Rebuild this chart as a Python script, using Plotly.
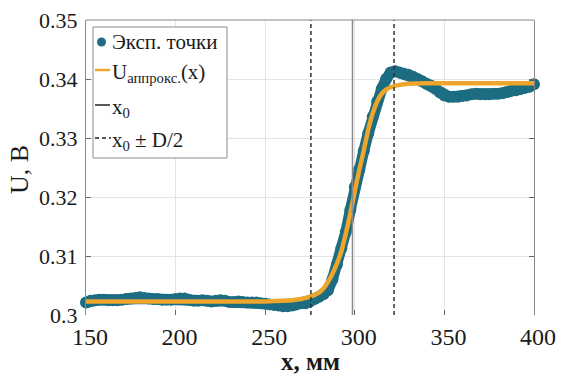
import plotly.graph_objects as go

# ---------------- data ----------------
x_exp = [150 + 2.5 * i for i in range(101)]
u_exp = [
    0.3021, 0.3024, 0.3025, 0.3026, 0.3026, 0.3025, 0.3025, 0.3025, 0.3026, 0.3027,
    0.3028, 0.3029, 0.3030, 0.3029, 0.3028, 0.3027, 0.3027, 0.3026, 0.3026, 0.3026,
    0.3027, 0.3028, 0.3028, 0.3026, 0.3024, 0.3024, 0.3025, 0.3024, 0.3023, 0.3024,
    0.3025, 0.3024, 0.3022, 0.3022, 0.3023, 0.3022, 0.3021, 0.3021, 0.3021, 0.3020,
    0.3019, 0.3018, 0.3017, 0.3016, 0.3015, 0.3015, 0.3016, 0.3018, 0.3020, 0.3020,
    0.3023, 0.3027, 0.3031, 0.3035, 0.3042, 0.3060, 0.3085, 0.3113, 0.3141, 0.3178,
    0.3217, 0.3247, 0.3278, 0.3308, 0.3336, 0.3362, 0.3383, 0.3400, 0.3411, 0.3413,
    0.3411, 0.3409, 0.3407, 0.3404, 0.3400, 0.3396, 0.3392, 0.3389, 0.3384, 0.3377,
    0.3372, 0.3370, 0.3370, 0.3370, 0.3371, 0.3372, 0.3374, 0.3375, 0.3374, 0.3374,
    0.3374, 0.3375, 0.3375, 0.3376, 0.3378, 0.3380, 0.3381, 0.3383, 0.3385, 0.3387,
    0.3391,
]

x_fit = [150, 200, 250, 260, 265, 270, 275, 280, 282.5, 285, 287.5, 290, 292.5, 295,
         297.5, 300, 302.5, 305, 307.5, 310, 312.5, 315, 317.5, 320, 325, 330, 340, 400]
u_fit = [0.3023, 0.3023, 0.3023, 0.3024, 0.3025, 0.3027, 0.3031, 0.3038, 0.3045, 0.3056,
         0.3070, 0.3087, 0.3108, 0.3138, 0.3172, 0.3210, 0.3246, 0.3279, 0.3314, 0.3342,
         0.3362, 0.3375, 0.3382, 0.3386, 0.3390, 0.3392, 0.3393, 0.3393]

x0 = 298.7
D = 46.4

x_ticks = [150, 200, 250, 300, 350, 400]
y_ticks = [0.30, 0.31, 0.32, 0.33, 0.34, 0.35]
y_tick_labels = ["0.3", "0.31", "0.32", "0.33", "0.34", "0.35"]

x_title = "<b>x, мм</b>"
y_title = "U, B"
legend_labels = ["Эксп. точки", "U<sub>аппрокс.</sub>(x)", "x<sub>0</sub>", "x<sub>0</sub> ± D/2"]

# ---------------- style ----------------
TEAL = "#1c6d82"
ORANGE = "#eda52b"
SERIF = "Liberation Serif, Times New Roman, serif"
TXT = "#1a1a1a"

W, H = 562, 374
L, R, T, B = 86, 534, 20, 315


def px(xp):
    return (xp - L) / (R - L)


def py(yp):
    return (B - yp) / (B - T)


fig = go.Figure()

fig.add_trace(go.Scatter(
    x=x_exp, y=u_exp, mode="lines+markers", name=legend_labels[0],
    line=dict(color=TEAL, width=11),
    marker=dict(color=TEAL, size=12),
    cliponaxis=False, showlegend=False,
))
fig.add_trace(go.Scatter(
    x=x_fit, y=u_fit, mode="lines", name="U аппрокс.(x)",
    line=dict(color=ORANGE, width=4.5, shape="spline", smoothing=0.6),
    cliponaxis=False, showlegend=False,
))

shapes = []
for xv in (x0 - D / 2, x0 + D / 2):
    shapes.append(dict(type="line", xref="x", yref="paper", x0=xv, x1=xv, y0=0, y1=1,
                       line=dict(color="#333333", width=1.5, dash="4px,3px"), layer="above"))
shapes.append(dict(type="line", xref="x", yref="paper", x0=x0, x1=x0, y0=0, y1=1,
                   line=dict(color="#8a8a8a", width=1.5), layer="above"))
shapes.append(dict(type="line", xref="paper", yref="paper", x0=0, x1=1, y0=1, y1=1,
                   line=dict(color="#888888", width=1), layer="above"))

# manual legend
shapes.append(dict(type="rect", xref="paper", yref="paper",
                   x0=px(93), x1=px(227), y0=py(158), y1=py(27),
                   line=dict(color="#8c8c8c", width=1), fillcolor="white", layer="above"))
shapes.append(dict(type="circle", xref="paper", yref="paper", xsizemode="pixel", ysizemode="pixel",
                   xanchor=px(101.5), yanchor=py(42), x0=-4.5, x1=4.5, y0=-4.5, y1=4.5,
                   fillcolor=TEAL, line=dict(color=TEAL, width=0), layer="above"))
shapes.append(dict(type="line", xref="paper", yref="paper", x0=px(95), x1=px(110),
                   y0=py(70), y1=py(70), line=dict(color=ORANGE, width=2.5), layer="above"))
shapes.append(dict(type="line", xref="paper", yref="paper", x0=px(95), x1=px(110),
                   y0=py(105), y1=py(105), line=dict(color="#222222", width=1.5), layer="above"))
shapes.append(dict(type="line", xref="paper", yref="paper", x0=px(95), x1=px(111),
                   y0=py(138), y1=py(138), line=dict(color="#222222", width=1.5, dash="4px,3px"),
                   layer="above"))

annotations = []
leg_y = [42, 73, 108, 141]
for lbl, yy in zip(legend_labels, leg_y):
    annotations.append(dict(text=lbl, xref="paper", yref="paper", x=px(110), y=py(yy),
                            xanchor="left", yanchor="middle", showarrow=False,
                            font=dict(family=SERIF, size=21, color=TXT)))

annotations.append(dict(text=x_title, xref="paper", yref="paper", x=px(310), y=py(361),
                        xanchor="center", yanchor="middle", showarrow=False,
                        font=dict(family=SERIF, size=25, color=TXT)))
annotations.append(dict(text=y_title, xref="paper", yref="paper", x=px(19), y=py(170),
                        xanchor="center", yanchor="middle", showarrow=False, textangle=-90,
                        font=dict(family=SERIF, size=26, color=TXT)))

fig.update_layout(
    width=W, height=H,
    margin=dict(l=L, r=W - R, t=T, b=H - B, pad=0, autoexpand=False),
    paper_bgcolor="white", plot_bgcolor="white",
    shapes=shapes, annotations=annotations,
    showlegend=False,
    xaxis=dict(
        range=[150, 400], tickvals=x_ticks, ticktext=[str(v) for v in x_ticks],
        showgrid=True, gridcolor="#e4e4e4", gridwidth=1, zeroline=False,
        showline=False, ticks="inside", ticklen=5, tickcolor="#666666",
        tickfont=dict(family=SERIF, size=24, color=TXT),
        ticklabelshift=4, ticklabelstandoff=5, automargin=False,
    ),
    yaxis=dict(
        range=[0.3, 0.35], tickvals=y_ticks, ticktext=y_tick_labels,
        showgrid=True, gridcolor="#e4e4e4", gridwidth=1, zeroline=False,
        showline=True, linecolor="#888888", linewidth=1, mirror="ticks",
        ticks="inside", ticklen=5, tickcolor="#666666",
        tickfont=dict(family=SERIF, size=22, color=TXT),
        ticklabelstandoff=3, automargin=False,
    ),
)

fig.write_html("out.html",
               config={"displayModeBar": False},
               post_script="document.body.style.margin='0';document.body.style.overflow='hidden';")
